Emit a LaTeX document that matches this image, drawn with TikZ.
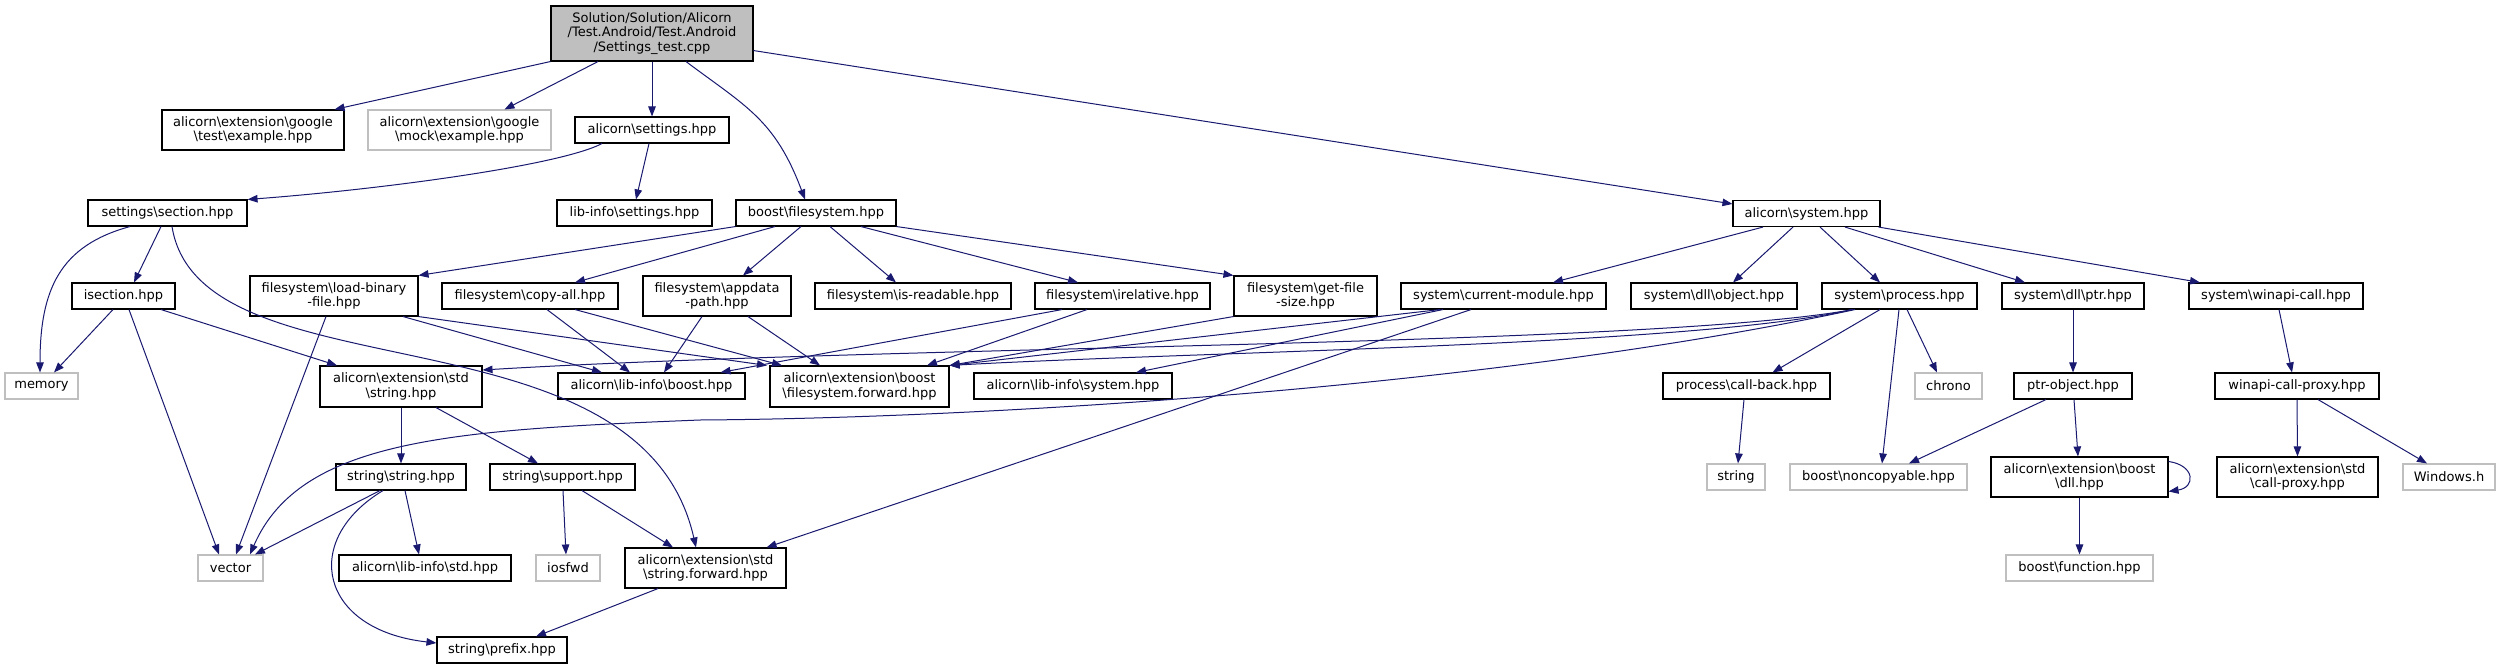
\documentclass[tikz,border=0pt]{standalone}
\usepackage{fontspec}
\setmainfont{DejaVu Sans}
\usetikzlibrary{arrows.meta,calc}
\definecolor{edgeblue}{HTML}{191970}
\definecolor{grey75}{HTML}{BFBFBF}
\newcommand{\bsl}{\textbackslash}

\begin{document}
\begin{tikzpicture}[x=1pt,y=-1pt,
    inc/.style={draw=black, line width=1.1pt, fill=white, minimum height=26pt,
      inner sep=1pt, align=center, font=\fontsize{13}{14.7}\selectfont},
    sys/.style={inc, draw=grey75},
    top/.style={inc, fill=grey75},
    dep/.style={edgeblue, line width=1pt, -{Triangle[length=10pt,width=7.5pt]}}]
    \useasboundingbox (0,0) rectangle (2501,669);

    \node[top, minimum width=202, minimum height=55] (root) at (652,33.5)
      {Solution/Solution/Alicorn\\/Test.Android/Test.Android\\/Settings\_test.cpp};
    \node[inc, minimum width=182, minimum height=40] (gtest) at (253,130) {alicorn\bsl extension\bsl google\\\bsl test\bsl example.hpp};
    \node[sys, minimum width=183, minimum height=40] (gmock) at (459.5,130) {alicorn\bsl extension\bsl google\\\bsl mock\bsl example.hpp};
    \node[inc, minimum width=154] (settings) at (652,130) {alicorn\bsl settings.hpp};
    \node[inc, minimum width=159] (section) at (167.5,213) {settings\bsl section.hpp};
    \node[inc, minimum width=155] (libsettings) at (634.5,213) {lib-info\bsl settings.hpp};
    \node[inc, minimum width=160] (boostfs) at (816,213) {boost\bsl filesystem.hpp};
    \node[inc, minimum width=147] (system) at (1806.5,213.5) {alicorn\bsl system.hpp};

    \node[inc, minimum width=103] (isection) at (123.5,296) {isection.hpp};
    \node[inc, minimum width=168, minimum height=40] (loadbin) at (334,296) {filesystem\bsl load-binary\\-file.hpp};
    \node[inc, minimum width=176] (copyall) at (530,296) {filesystem\bsl copy-all.hpp};
    \node[inc, minimum width=148, minimum height=40] (appdata) at (717,296) {filesystem\bsl appdata\\-path.hpp};
    \node[inc, minimum width=196] (isreadable) at (913,296) {filesystem\bsl is-readable.hpp};
    \node[inc, minimum width=175] (irelative) at (1122.5,296) {filesystem\bsl irelative.hpp};
    \node[inc, minimum width=143, minimum height=40] (getfilesize) at (1305.5,296) {filesystem\bsl get-file\\-size.hpp};
    \node[inc, minimum width=205] (curmodule) at (1503.5,296) {system\bsl current-module.hpp};
    \node[inc, minimum width=166] (dllobject) at (1714,296) {system\bsl dll\bsl object.hpp};
    \node[inc, minimum width=155] (process) at (1899.5,296) {system\bsl process.hpp};
    \node[inc, minimum width=142] (dllptr) at (2073,296) {system\bsl dll\bsl ptr.hpp};
    \node[inc, minimum width=174] (winapi) at (2276,296) {system\bsl winapi-call.hpp};

    \node[sys, minimum width=73] (memory) at (41.5,386) {memory};
    \node[inc, minimum width=162, minimum height=41] (stdstring) at (401,386.5) {alicorn\bsl extension\bsl std\\\bsl string.hpp};
    \node[inc, minimum width=187] (libboost) at (651.5,386) {alicorn\bsl lib-info\bsl boost.hpp};
    \node[inc, minimum width=179, minimum height=41] (fsforward) at (859.5,386.5) {alicorn\bsl extension\bsl boost\\\bsl filesystem.forward.hpp};
    \node[inc, minimum width=198] (libsystem) at (1073,386) {alicorn\bsl lib-info\bsl system.hpp};
    \node[inc, minimum width=167] (callback) at (1746.5,386) {process\bsl call-back.hpp};
    \node[sys, minimum width=67] (chrono) at (1948.5,386) {chrono};
    \node[inc, minimum width=118] (ptrobject) at (2073,386) {ptr-object.hpp};
    \node[inc, minimum width=164] (winapiproxy) at (2297,386) {winapi-call-proxy.hpp};

    \node[inc, minimum width=130] (strstring) at (401,477) {string\bsl string.hpp};
    \node[inc, minimum width=145] (support) at (562.5,477) {string\bsl support.hpp};
    \node[sys, minimum width=58] (string) at (1736,477) {string};
    \node[sys, minimum width=177] (noncopyable) at (1878.5,477) {boost\bsl noncopyable.hpp};
    \node[inc, minimum width=177, minimum height=40] (dll) at (2079.5,477) {alicorn\bsl extension\bsl boost\\\bsl dll.hpp};
    \node[inc, minimum width=161, minimum height=40] (callproxy) at (2297.5,477) {alicorn\bsl extension\bsl std\\\bsl call-proxy.hpp};
    \node[sys, minimum width=92] (windows) at (2449,477) {Windows.h};

    \node[sys, minimum width=65] (vector) at (230.5,568) {vector};
    \node[inc, minimum width=172] (libstd) at (425,568) {alicorn\bsl lib-info\bsl std.hpp};
    \node[sys, minimum width=64] (iosfwd) at (568,568) {iosfwd};
    \node[inc, minimum width=161, minimum height=40] (strforward) at (705.5,568) {alicorn\bsl extension\bsl std\\\bsl string.forward.hpp};
    \node[sys, minimum width=147] (function) at (2079.5,568) {boost\bsl function.hpp};
    \node[inc, minimum width=130] (prefix) at (502,650) {string\bsl prefix.hpp};

    \draw[dep] (root.south west) -- ([xshift=-10]gtest.north east);
    \draw[dep] ([xshift=-54]root.south) -- ([xshift=45]gmock.north);
    \draw[dep] (root.south) -- (settings.north);
    \draw[dep] ([xshift=34]root.south) .. controls +(60,45) and +(-30,-80) .. ([xshift=-11]boostfs.north);
    \draw[dep] ($(root.south east)+(0,-11)$) -- ($(system.north west)+(0,4)$);

    \draw[dep] ([xshift=-50]settings.south) .. controls +(-42,22) and +(133,-10) .. (section.north east);
    \draw[dep] ([xshift=-3]settings.south) -- ([xshift=1.5]libsettings.north);

    \draw[dep] ([xshift=-37.5]section.south) .. controls +(-70,19) and +(0,-83) .. ([xshift=-1.5]memory.north);
    \draw[dep] ([xshift=-6.5]section.south) -- ([xshift=10.5]isection.north);
    \draw[dep] ([xshift=4.5]section.south) .. controls +(28,174) and +(-56,-248) .. ([xshift=-9.5]strforward.north);

    \draw[dep] ([xshift=-10.5]isection.south) -- ([xshift=12.5]memory.north);
    \draw[dep] ([xshift=5.5]isection.south) -- ([xshift=-11.5]vector.north);
    \draw[dep] ([xshift=37.5]isection.south) -- ([xshift=-64]stdstring.north);

    \draw[dep] (boostfs.south west) -- (loadbin.north east);
    \draw[dep] ([xshift=-41]boostfs.south) -- ([xshift=45]copyall.north);
    \draw[dep] ([xshift=-15]boostfs.south) -- ([xshift=26]appdata.north);
    \draw[dep] ([xshift=14]boostfs.south) -- ([xshift=-17]isreadable.north);
    \draw[dep] ([xshift=45]boostfs.south) -- ([xshift=-44.5]irelative.north);
    \draw[dep] (boostfs.south east) -- (getfilesize.north west);

    \draw[dep] ([xshift=-8]loadbin.south) -- ([xshift=5.5]vector.north);
    \draw[dep] ([xshift=69]loadbin.south) -- ([xshift=-49.5]libboost.north);
    \draw[dep] (loadbin.south east) -- ([xshift=-92.5]fsforward.north);
    \draw[dep] ([xshift=17]copyall.south) -- ([xshift=-21.5]libboost.north);
    \draw[dep] ([xshift=45]copyall.south) -- ([xshift=-77.5]fsforward.north);
    \draw[dep] ([xshift=-15]appdata.south) -- ([xshift=12.5]libboost.north);
    \draw[dep] ([xshift=31]appdata.south) -- ([xshift=-39.5]fsforward.north);
    \draw[dep] ([xshift=-60.5]irelative.south) -- ([xshift=-25]libboost.north east);
    \draw[dep] ([xshift=-35.5]irelative.south) -- ([xshift=67.5]fsforward.north);
    \draw[dep] (getfilesize.south west) -- (fsforward.north east);

    \draw[dep] ([xshift=-63.5]curmodule.south) -- (fsforward.north east);
    \draw[dep] ([xshift=-60.5]curmodule.south) -- ([xshift=63]libsystem.north);
    \draw[dep] ([xshift=-32.5]curmodule.south) -- ([xshift=-20]strforward.north east);

    \draw[dep] ([xshift=-43.5]system.south) -- ([xshift=49.5]curmodule.north);
    \draw[dep] ([xshift=-13.5]system.south) -- ([xshift=19]dllobject.north);
    \draw[dep] ([xshift=13.5]system.south) -- ([xshift=-19.5]process.north);
    \draw[dep] ([xshift=38.5]system.south) -- ([xshift=-48]dllptr.north);
    \draw[dep] ([xshift=-2]system.south east) -- ([xshift=-76]winapi.north);

    \draw[dep] ([xshift=-46.5]process.south) .. controls +(-203,37) and +(418,-25) .. ($(stdstring.east)+(0,-16.5)$);
    \draw[dep] ([xshift=-48]process.south) .. controls +(-151.5,36) and +(251,-14) .. (fsforward.north east);
    \draw[dep] ([xshift=-44.5]process.south) .. controls +(-355,76) and +(300,-2) .. (700,420)
      .. controls +(-250,10) and +(50,-115) .. ([xshift=19.5]vector.north);
    \draw[dep] ([xshift=-19.5]process.south) -- ([xshift=26]callback.north);
    \draw[dep] ([xshift=-0.5]process.south) -- ([xshift=3.5]noncopyable.north);
    \draw[dep] ([xshift=7.5]process.south) -- ([xshift=-11.5]chrono.north);

    \draw[dep] (dllptr.south) -- (ptrobject.north);
    \draw[dep] ([xshift=-27]ptrobject.south) -- ([xshift=30.5]noncopyable.north);
    \draw[dep] ([xshift=1]ptrobject.south) -- ([xshift=-1.5]dll.north);
    \draw[dep] ($(dll.north east)+(0,5)$) .. controls +(27,4) and +(27,-4) .. ($(dll.north east)+(0,35)$);
    \draw[dep] (dll.south) -- (function.north);

    \draw[dep] ([xshift=3]winapi.south) -- ([xshift=-5]winapiproxy.north);
    \draw[dep] (winapiproxy.south) -- (callproxy.north);
    \draw[dep] ([xshift=21]winapiproxy.south) -- ([xshift=-22]windows.north);
    \draw[dep] ([xshift=-2.5]callback.south) -- ([xshift=2]string.north);

    \draw[dep] (stdstring.south) -- (strstring.north);
    \draw[dep] ([xshift=35]stdstring.south) -- ([xshift=-24.5]support.north);
    \draw[dep] ([xshift=-21]strstring.south) -- ([xshift=24.5]vector.north);
    \draw[dep] ([xshift=4]strstring.south) -- ([xshift=-6]libstd.north);
    \draw[dep] ([xshift=-18]strstring.south) .. controls +(-83,50) and +(-117,-13) .. ($(prefix.west)+(0,-7)$);
    \draw[dep] ([xshift=0.5]support.south) -- ([xshift=-2]iosfwd.north);
    \draw[dep] ([xshift=19.5]support.south) -- ([xshift=-32.5]strforward.north);
    \draw[dep] ([xshift=-47.5]strforward.south) -- ([xshift=34]prefix.north);
  \end{tikzpicture}
\end{document}
